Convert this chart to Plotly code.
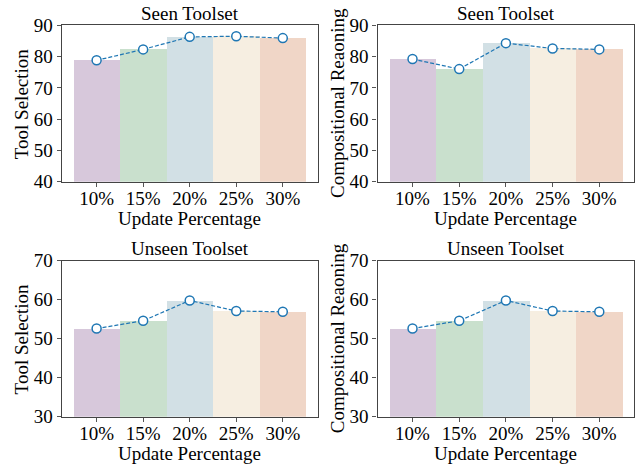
import plotly.graph_objects as go
from plotly.subplots import make_subplots

categories = ["10%", "15%", "20%", "25%", "30%"]

seen_tool_selection = [78.8, 82.3, 86.3, 86.5, 85.9]
seen_comp_reasoning = [79.2, 76.0, 84.3, 82.6, 82.3]
unseen_tool_selection = [52.6, 54.6, 59.8, 57.1, 56.9]
unseen_comp_reasoning = [52.6, 54.6, 59.8, 57.1, 56.9]

bar_colors = ["#d7c8db", "#c9e0cd", "#d2e0e5", "#f6eee1", "#f0d6c7"]
line_color = "#1f77b4"
FONT = "Liberation Serif, Times New Roman, serif"
FS = 19

W, H = 642, 466

panels = [
    (seen_tool_selection, "Seen Toolset", "Tool Selection", [40, 90], 10),
    (seen_comp_reasoning, "Seen Toolset", "Compositional Reaoning", [40, 90], 10),
    (unseen_tool_selection, "Unseen Toolset", "Tool Selection", [30, 70], 10),
    (unseen_comp_reasoning, "Unseen Toolset", "Compositional Reaoning", [30, 70], 10),
]

# axes boxes in pixels: (left, right, top, bottom)
boxes = [
    (61.7, 317.7, 25.3, 181.7),
    (377.5, 634.3, 25.3, 181.7),
    (61.7, 317.7, 260.7, 416.7),
    (377.5, 634.3, 260.7, 416.7),
]

fig = make_subplots(rows=2, cols=2)

for i, (vals, title, ylabel, yr, dt) in enumerate(panels):
    r, c = i // 2 + 1, i % 2 + 1
    xs = list(range(len(categories)))
    fig.add_trace(go.Bar(x=xs, y=vals, width=1.0, marker=dict(color=bar_colors, line=dict(width=0)),
                         showlegend=False, hoverinfo="y"), row=r, col=c)
    fig.add_trace(go.Scatter(x=xs, y=vals, mode="lines+markers",
                             line=dict(color=line_color, width=1.2, dash="4px,2px"),
                             marker=dict(size=9, color="white", line=dict(color=line_color, width=1.5)),
                             showlegend=False), row=r, col=c)

    l, rr, t, b = boxes[i]
    sfx = "" if i == 0 else str(i + 1)
    fig.layout["xaxis" + sfx].update(
        domain=[l / W, rr / W], range=[-0.75, 4.75], automargin=False,
        tickvals=xs, ticktext=categories, ticks="outside", ticklen=4, tickcolor="#555",
        ticklabelstandoff=-5,
        showline=True, linecolor="#444", linewidth=1.3, mirror=True, showgrid=False, zeroline=False,
        tickfont=dict(family=FONT, size=FS, color="black"), fixedrange=True,
    )
    fig.layout["yaxis" + sfx].update(
        domain=[(H - b) / H, (H - t) / H], range=yr, dtick=dt, automargin=False,
        ticks="outside", ticklen=4, tickcolor="#555",
        showline=True, linecolor="#444", linewidth=1.3, mirror=True, showgrid=False, zeroline=False,
        tickfont=dict(family=FONT, size=FS, color="black"),
    )

    cx = (l + rr) / 2
    fig.add_annotation(text=title, x=cx / W, y=(H - (t - 12)) / H, xref="paper", yref="paper",
                       xanchor="center", yanchor="middle", showarrow=False,
                       font=dict(family=FONT, size=FS, color="black"))
    fig.add_annotation(text="Update Percentage", x=cx / W, y=(H - (b + 36.5)) / H, xref="paper", yref="paper",
                       xanchor="center", yanchor="middle", showarrow=False,
                       font=dict(family=FONT, size=FS, color="black"))
    fig.add_annotation(text=ylabel, x=(l - 40) / W, y=(H - (t + b) / 2) / H, xref="paper", yref="paper",
                       xanchor="center", yanchor="middle", showarrow=False, textangle=-90,
                       font=dict(family=FONT, size=FS, color="black"))

fig.update_layout(
    width=W, height=H, margin=dict(l=0, r=0, t=0, b=0, autoexpand=False),
    plot_bgcolor="white", paper_bgcolor="white", bargap=0,
    font=dict(family=FONT, size=FS, color="black"),
)

fig.write_html("out.html", config={"displayModeBar": False},
               post_script="document.body.style.margin='0';")
